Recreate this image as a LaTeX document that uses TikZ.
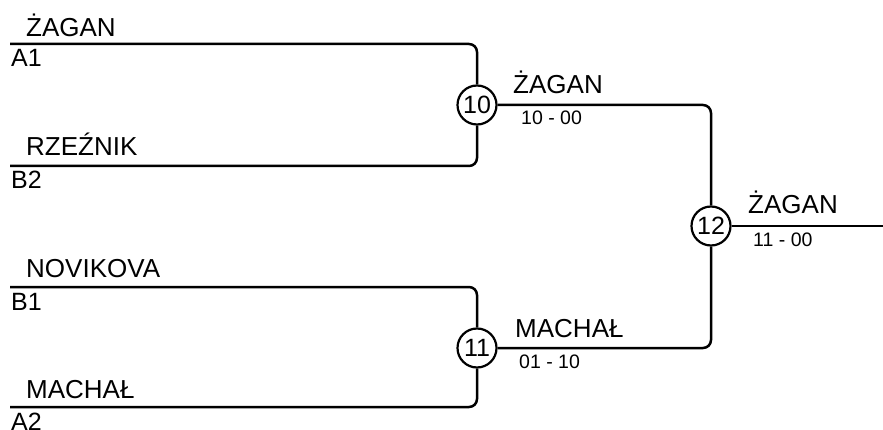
\documentclass[tikz,border=0pt]{standalone}
\usepackage{fontspec}
\setmainfont{Liberation Sans}
\begin{document}
\begin{tikzpicture}[x=1pt,y=-1pt,
  wire/.style={line width=2.5pt, rounded corners=8pt},
  match/.style={circle, draw, line width=2.2pt, fill=white, minimum size=39pt, inner sep=0pt, font=\fontsize{25}{25}\selectfont},
  pname/.style={anchor=base west, inner sep=0pt, font=\fontsize{26}{26}\selectfont},
  seed/.style={anchor=base west, inner sep=0pt, font=\fontsize{25}{25}\selectfont},
  score/.style={anchor=base west, inner sep=0pt, font=\fontsize{19.5}{19.5}\selectfont}]
\useasboundingbox (0,0) rectangle (883,430);
\node[match] (m10) at (477,105) {10};
\node[match] (m11) at (477,348) {11};
\node[match] (m12) at (711,226) {12};
\coordinate (p1) at (10,44);
\coordinate (p2) at (10,166);
\coordinate (p3) at (10,287);
\coordinate (p4) at (10,407);
\coordinate (out) at (883,226);
\draw[wire] (p1) -| (m10);
\draw[wire] (p2) -| (m10);
\draw[wire] (p3) -| (m11);
\draw[wire] (p4) -| (m11);
\draw[wire] (m10) -| (m12);
\draw[wire] (m11) -| (m12);
\draw[wire] (m12) -- (out);
\node[pname] (n1) at (26,37) {ŻAGAN};
\node[seed] (s1) at (11,67) {A1};
\node[pname] (n2) at (26,156) {RZEŹNIK};
\node[seed] (s2) at (11,189) {B2};
\node[pname] (n3) at (26,277) {NOVIKOVA};
\node[seed] (s3) at (11,310) {B1};
\node[pname] (n4) at (26,398) {MACHAŁ};
\node[seed] (s4) at (11,430) {A2};
\node[pname] (w10) at (513,94) {ŻAGAN};
\node[score] (sc10) at (521,125) {10 - 00};
\node[pname] (w11) at (515,337) {MACHAŁ};
\node[score] (sc11) at (519,368) {01 - 10};
\node[pname] (w12) at (748,214) {ŻAGAN};
\node[score] (sc12) at (753,247) {11 - 00};
\end{tikzpicture}
\end{document}
